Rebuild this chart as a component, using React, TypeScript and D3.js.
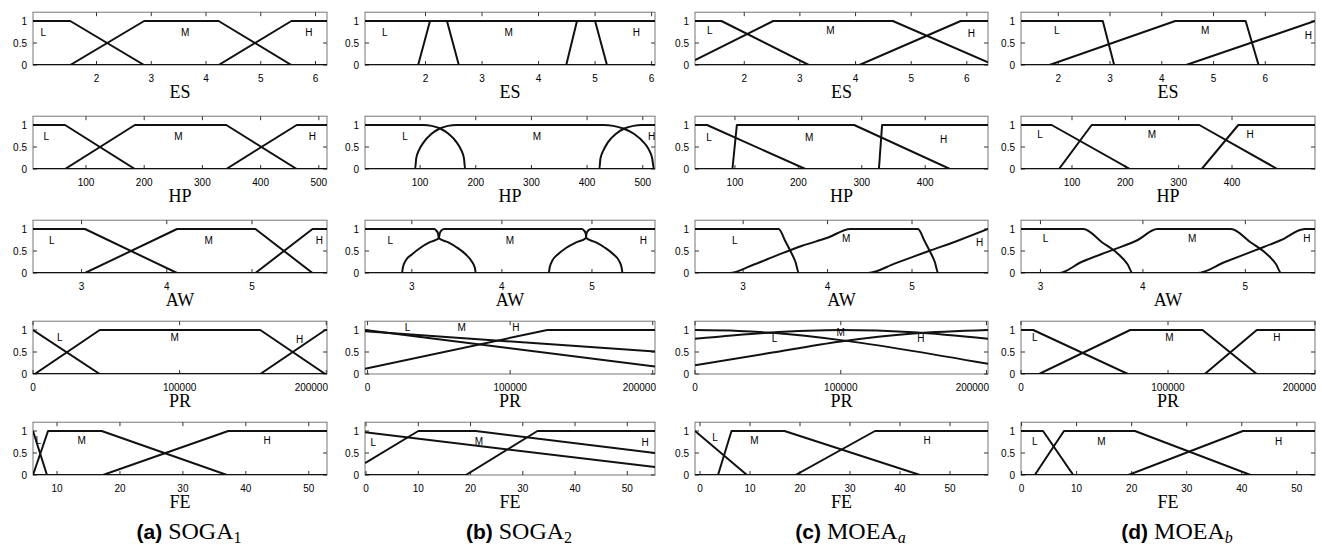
import * as d3 from "d3";

type Pt = [number, number];

interface Panel {
  name: string;
  domain: [number, number];
  ticks: number[];
  L: Pt[];
  M: Pt[];
  H: Pt[];
  labels: Pt[];
  curved?: boolean;
}

// ---------- (a) SOGA1 ----------
const soga1ES: Panel = {
  name: "ES", domain: [0.84, 6.21], ticks: [2, 3, 4, 5, 6],
  L: [[0.84, 1], [1.52, 1], [2.87, 0], [6.21, 0]],
  M: [[0.84, 0], [1.52, 0], [2.87, 1], [4.23, 1], [5.56, 0], [6.21, 0]],
  H: [[0.84, 0], [4.23, 0], [5.56, 1], [6.21, 1]],
  labels: [[1.03, 0.75], [3.62, 0.75], [5.88, 0.75]],
};
const soga1HP: Panel = {
  name: "HP", domain: [9, 514], ticks: [100, 200, 300, 400, 500],
  L: [[9, 1], [64, 1], [184, 0], [514, 0]],
  M: [[9, 0], [64, 0], [184, 1], [341, 1], [462, 0], [514, 0]],
  H: [[9, 0], [341, 0], [462, 1], [514, 1]],
  labels: [[32, 0.75], [259, 0.75], [489, 0.75]],
};
const soga1AW: Panel = {
  name: "AW", domain: [2.43, 5.88], ticks: [3, 4, 5],
  L: [[2.43, 1], [3.04, 1], [4.12, 0], [5.88, 0]],
  M: [[2.43, 0], [3.04, 0], [4.12, 1], [5.04, 1], [5.71, 0], [5.88, 0]],
  H: [[2.43, 0], [5.04, 0], [5.71, 1], [5.88, 1]],
  labels: [[2.65, 0.75], [4.49, 0.75], [5.79, 0.75]],
};
const soga1PR: Panel = {
  name: "PR", domain: [0, 200500], ticks: [0, 100000, 200000],
  L: [[0, 1], [45500, 0], [200500, 0]],
  M: [[0, 0], [1200, 0], [45500, 1], [155000, 1], [199300, 0], [200500, 0]],
  H: [[0, 0], [155000, 0], [199300, 1], [200500, 1]],
  labels: [[18200, 0.82], [96600, 0.82], [181900, 0.78]],
};
const soga1FE: Panel = {
  name: "FE", domain: [6.18, 52.9], ticks: [10, 20, 30, 40, 50],
  L: [[6.18, 1], [8.4, 0], [52.9, 0]],
  M: [[6.18, 0], [8.57, 1], [17.1, 1], [37.0, 0], [52.9, 0]],
  H: [[6.18, 0], [17.3, 0], [37.2, 1], [52.9, 1]],
  labels: [[7.0, 0.78], [13.9, 0.78], [43.4, 0.78]],
};

// ---------- (b) SOGA2 ----------
const soga2ES: Panel = {
  name: "ES", domain: [0.93, 6.06], ticks: [2, 3, 4, 5, 6],
  L: [[0.93, 1], [2.38, 1], [2.59, 0], [6.06, 0]],
  M: [[0.93, 0], [1.87, 0], [2.08, 1], [5.0, 1], [5.21, 0], [6.06, 0]],
  H: [[0.93, 0], [4.49, 0], [4.68, 1], [6.06, 1]],
  labels: [[1.28, 0.75], [3.47, 0.75], [5.73, 0.75]],
};
const soga2HP: Panel = {
  name: "HP", domain: [1, 522], ticks: [100, 200, 300, 400, 500], curved: true,
  L: [[1, 1], [106, 1], [121, 0.98], [136, 0.92], [151, 0.8], [166, 0.6], [173.5, 0.44], [178.8, 0.24], [181, 0], [522, 0]],
  M: [[1, 0], [91, 0], [93, 0.24], [98.4, 0.44], [106, 0.6], [120.6, 0.8], [135.4, 0.92], [150, 0.98], [165, 1],
      [429, 1], [447, 0.98], [465, 0.92], [484, 0.8], [502, 0.6], [511, 0.44], [517, 0.24], [520, 0], [522, 0]],
  H: [[1, 0], [422, 0], [424, 0.24], [430, 0.44], [437, 0.6], [452, 0.8], [467, 0.92], [483, 0.98], [498, 1], [522, 1]],
  labels: [[73, 0.75], [310, 0.75], [516, 0.75]],
};
const soga2AW: Panel = {
  name: "AW", domain: [2.48, 5.7], ticks: [3, 4, 5], curved: true,
  L: [[2.48, 1], [3.25, 1], [3.27, 0.97], [3.29, 0.9], [3.3, 0.79], [3.4, 0.7], [3.5, 0.58], [3.6, 0.42], [3.66, 0.28], [3.7, 0.12], [3.71, 0], [5.7, 0]],
  M: [[2.48, 0], [2.89, 0], [2.9, 0.12], [2.93, 0.28], [3.0, 0.42], [3.1, 0.58], [3.2, 0.7], [3.3, 0.79], [3.31, 0.9], [3.33, 0.97], [3.36, 1],
      [4.89, 1], [4.91, 0.97], [4.93, 0.9], [4.94, 0.79], [5.04, 0.7], [5.14, 0.58], [5.24, 0.42], [5.3, 0.28], [5.33, 0.12], [5.34, 0], [5.7, 0]],
  H: [[2.48, 0], [4.52, 0], [4.53, 0.12], [4.56, 0.28], [4.62, 0.42], [4.72, 0.58], [4.83, 0.7], [4.93, 0.79], [4.94, 0.9], [4.96, 0.97], [4.99, 1], [5.7, 1]],
  labels: [[2.76, 0.73], [4.09, 0.73], [5.57, 0.73]],
};
const soga2PR: Panel = {
  name: "PR", domain: [-1800, 201600], ticks: [0, 100000, 200000],
  L: [[-1800, 1.0], [201600, 0.17]],
  M: [[-1800, 0.97], [201600, 0.51]],
  H: [[-1800, 0.12], [126000, 1], [201600, 1]],
  labels: [[28000, 1.05], [66000, 1.05], [104000, 1.05]],
};
const soga2FE: Panel = {
  name: "FE", domain: [-0.2, 55.3], ticks: [0, 10, 20, 30, 40, 50],
  L: [[-0.2, 0.97], [55.3, 0.18]],
  M: [[-0.2, 0.27], [10, 1], [21, 1], [55.3, 0.5]],
  H: [[-0.2, 0], [19.1, 0], [32.8, 1], [55.3, 1]],
  labels: [[1.4, 0.73], [21.6, 0.77], [53.4, 0.73]],
};

// ---------- (c) MOEAa ----------
const moeaaES: Panel = {
  name: "ES", domain: [1.115, 6.38], ticks: [2, 3, 4, 5, 6],
  L: [[1.115, 1], [1.59, 1], [3.16, 0], [6.38, 0]],
  M: [[1.115, 0.11], [2.52, 1], [4.67, 1], [6.38, 0.06]],
  H: [[1.115, 0], [4.07, 0], [5.89, 1], [6.38, 1]],
  labels: [[1.38, 0.78], [3.55, 0.78], [6.08, 0.72]],
};
const moeaaHP: Panel = {
  name: "HP", domain: [37, 499], ticks: [100, 200, 300, 400],
  L: [[37, 1], [56, 1], [211, 0], [499, 0]],
  M: [[37, 0], [96, 0], [103, 1], [288, 1], [439, 0], [499, 0]],
  H: [[37, 0], [327, 0], [332, 1], [499, 1]],
  labels: [[59, 0.72], [217, 0.72], [429, 0.68]],
};
const moeaaAW: Panel = {
  name: "AW", domain: [2.43, 5.9], ticks: [3, 4, 5], curved: true,
  L: [[2.43, 1], [3.42, 1], [3.5, 0.72], [3.56, 0.5], [3.62, 0.25], [3.66, 0], [5.9, 0]],
  M: [[2.43, 0], [2.84, 0], [3.1, 0.17], [3.4, 0.4], [3.7, 0.62], [4.0, 0.8], [4.27, 1],
      [5.07, 1], [5.15, 0.72], [5.21, 0.5], [5.27, 0.25], [5.31, 0], [5.9, 0]],
  H: [[2.43, 0], [4.48, 0], [4.8, 0.22], [5.2, 0.5], [5.55, 0.74], [5.9, 1]],
  labels: [[2.9, 0.73], [4.22, 0.78], [5.8, 0.69]],
};
const moeaaPR: Panel = {
  name: "PR", domain: [0, 201000], ticks: [0, 100000, 200000], curved: true,
  L: [[0, 1], [30000, 0.98], [55000, 0.93], [100000, 0.77], [150000, 0.52], [201000, 0.23]],
  M: [[0, 0.8], [50000, 0.94], [100000, 1.0], [150000, 0.95], [201000, 0.8]],
  H: [[0, 0.2], [50000, 0.47], [100000, 0.74], [150000, 0.92], [201000, 1.0]],
  labels: [[54500, 0.81], [100000, 0.95], [155000, 0.8]],
};
const moeaaFE: Panel = {
  name: "FE", domain: [-1, 57.6], ticks: [0, 10, 20, 30, 40, 50],
  L: [[-1, 1], [9.4, 0], [57.6, 0]],
  M: [[-1, 0], [3.6, 0], [6.3, 1], [16.9, 1], [44.0, 0], [57.6, 0]],
  H: [[-1, 0], [19.1, 0], [35.0, 1], [57.6, 1]],
  labels: [[3.0, 0.85], [10.9, 0.78], [45.4, 0.78]],
};

// ---------- (d) MOEAb ----------
const moeabES: Panel = {
  name: "ES", domain: [1.28, 6.96], ticks: [2, 3, 4, 5, 6],
  L: [[1.28, 1], [2.86, 1], [3.08, 0], [6.96, 0]],
  M: [[1.28, 0], [1.83, 0], [4.26, 1], [5.62, 1], [5.87, 0], [6.96, 0]],
  H: [[1.28, 0], [4.47, 0], [6.96, 1]],
  labels: [[1.97, 0.78], [4.84, 0.78], [6.83, 0.68]],
};
const moeabHP: Panel = {
  name: "HP", domain: [4.4, 555.6], ticks: [100, 200, 300, 400],
  L: [[4.4, 1], [61.9, 1], [208.8, 0], [555.6, 0]],
  M: [[4.4, 0], [75.6, 0], [136.9, 1], [338.7, 1], [485, 0], [555.6, 0]],
  H: [[4.4, 0], [343.2, 0], [411.8, 1], [555.6, 1]],
  labels: [[40, 0.78], [250, 0.78], [434, 0.78]],
};
const moeabAW: Panel = {
  name: "AW", domain: [2.81, 5.68], ticks: [3, 4, 5], curved: true,
  L: [[2.81, 1], [3.42, 1], [3.6, 0.7], [3.75, 0.45], [3.85, 0.2], [3.9, 0], [5.68, 0]],
  M: [[2.81, 0], [3.18, 0], [3.4, 0.25], [3.7, 0.52], [3.95, 0.75], [4.14, 1],
      [4.86, 1], [5.05, 0.7], [5.2, 0.45], [5.3, 0.2], [5.35, 0], [5.68, 0]],
  H: [[2.81, 0], [4.53, 0], [4.8, 0.25], [5.1, 0.52], [5.35, 0.75], [5.58, 1], [5.68, 1]],
  labels: [[3.05, 0.78], [4.48, 0.78], [5.6, 0.78]],
};
const moeabPR: Panel = {
  name: "PR", domain: [0, 200000], ticks: [0, 100000, 200000],
  L: [[0, 1], [8300, 1], [72700, 0], [200000, 0]],
  M: [[0, 0], [12300, 0], [74300, 1], [123500, 1], [160400, 0], [200000, 0]],
  H: [[0, 0], [125000, 0], [160400, 1], [200000, 1]],
  labels: [[9400, 0.84], [101000, 0.84], [174000, 0.84]],
};
const moeabFE: Panel = {
  name: "FE", domain: [-0.1, 53.3], ticks: [0, 10, 20, 30, 40, 50],
  L: [[-0.1, 1], [3.9, 1], [9.4, 0], [53.3, 0]],
  M: [[-0.1, 0], [2.4, 0], [7.7, 1], [20.6, 1], [41.6, 0], [53.3, 0]],
  H: [[-0.1, 0], [19.4, 0], [40.2, 1], [53.3, 1]],
  labels: [[2.4, 0.77], [14.5, 0.77], [46.7, 0.77]],
};

const columns = [
  { tag: "(a)", method: "SOGA", sub: "1", italic: false, panels: [soga1ES, soga1HP, soga1AW, soga1PR, soga1FE] },
  { tag: "(b)", method: "SOGA", sub: "2", italic: false, panels: [soga2ES, soga2HP, soga2AW, soga2PR, soga2FE] },
  { tag: "(c)", method: "MOEA", sub: "a", italic: true, panels: [moeaaES, moeaaHP, moeaaAW, moeaaPR, moeaaFE] },
  { tag: "(d)", method: "MOEA", sub: "b", italic: true, panels: [moeabES, moeabHP, moeabAW, moeabPR, moeabFE] },
];

const yTicks = [0, 0.5, 1];
const setNames = ["L", "M", "H"];

// layout
const colLeft = [33, 365, 695, 1021];
const colRight = [327, 655, 988, 1315];
const rowBase = [65, 169, 273, 374, 475];
const unitH = 44;
const captionY = 539;

const sans = "'Liberation Sans', Arial, sans-serif";
const serif = "'Liberation Serif', 'Times New Roman', serif";

function PanelView({ p, x0, x1, base, id }: { p: Panel; x0: number; x1: number; base: number; id: string }) {
  const x = d3.scaleLinear().domain(p.domain).range([x0, x1]);
  const y = d3.scaleLinear().domain([0, 1.2]).range([base, base - 1.2 * unitH]);
  const top = y(1.2);
  const line = d3
    .line<Pt>()
    .x((d) => x(d[0]))
    .y((d) => y(d[1]))
    .curve(p.curved ? d3.curveMonotoneX : d3.curveLinear);
  // keep wide tick labels inside the right edge, as the original does
  const labelX = (t: number) => {
    const half = (String(t).length * 5.56) / 2;
    return Math.min(x(t), x1 + 1 - half);
  };
  return (
    <g>
      <defs>
        <clipPath id={id}>
          <rect x={x0} y={top} width={x1 - x0} height={base - top} />
        </clipPath>
      </defs>
      <rect x={x0} y={top} width={x1 - x0} height={base - top} fill="none" stroke="#777" strokeWidth={1} />
      {yTicks.map((t) => (
        <g key={"y" + t}>
          <line x1={x0} x2={x0 + 4} y1={y(t)} y2={y(t)} stroke="#333" />
          <line x1={x1} x2={x1 - 4} y1={y(t)} y2={y(t)} stroke="#333" />
          <text x={x0 - 6} y={y(t) + 3.5} textAnchor="end" fontSize={10} fontFamily={sans}>
            {String(t)}
          </text>
        </g>
      ))}
      {p.ticks.map((t) => (
        <g key={"x" + t}>
          <line x1={x(t)} x2={x(t)} y1={top} y2={top + 4} stroke="#333" />
          <line x1={x(t)} x2={x(t)} y1={base} y2={base - 4} stroke="#333" />
          <text x={labelX(t)} y={base + 17} textAnchor="middle" fontSize={10} fontFamily={sans}>
            {String(t)}
          </text>
        </g>
      ))}
      <g clipPath={`url(#${id})`}>
        {[p.L, p.M, p.H].map((s, i) => (
          <path key={i} d={line(s) ?? ""} fill="none" stroke="#111" strokeWidth={2} strokeLinejoin="round" />
        ))}
      </g>
      {p.labels.map((d, i) => (
        <text key={"l" + i} x={x(d[0])} y={y(d[1]) + 3.5} textAnchor="middle" fontSize={10} fontFamily={sans}>
          {setNames[i]}
        </text>
      ))}
      <text x={(x0 + x1) / 2} y={base + 33} textAnchor="middle" fontSize={18} fontFamily={serif}>
        {p.name}
      </text>
    </g>
  );
}

export default function App() {
  return (
    <svg width={1322} height={549} style={{ position: "absolute", left: 0, top: 0, background: "#fff" }}>
      <rect width={1322} height={549} fill="#fff" />
      {columns.map((c, ci) => (
        <g key={ci}>
          {c.panels.map((p, ri) => (
            <PanelView key={ri} p={p} x0={colLeft[ci]} x1={colRight[ci]} base={rowBase[ri]} id={`clip-${ci}-${ri}`} />
          ))}
          <text x={(colLeft[ci] + colRight[ci]) / 2 + 9} y={captionY} textAnchor="middle" fontSize={24}>
            <tspan fontFamily={sans} fontWeight="bold" fontSize={21}>{c.tag}</tspan>
            <tspan fontFamily={serif}>{" " + c.method}</tspan>
            <tspan fontFamily={serif} fontSize={16} dy={4} fontStyle={c.italic ? "italic" : "normal"}>
              {c.sub}
            </tspan>
          </text>
        </g>
      ))}
    </svg>
  );
}
